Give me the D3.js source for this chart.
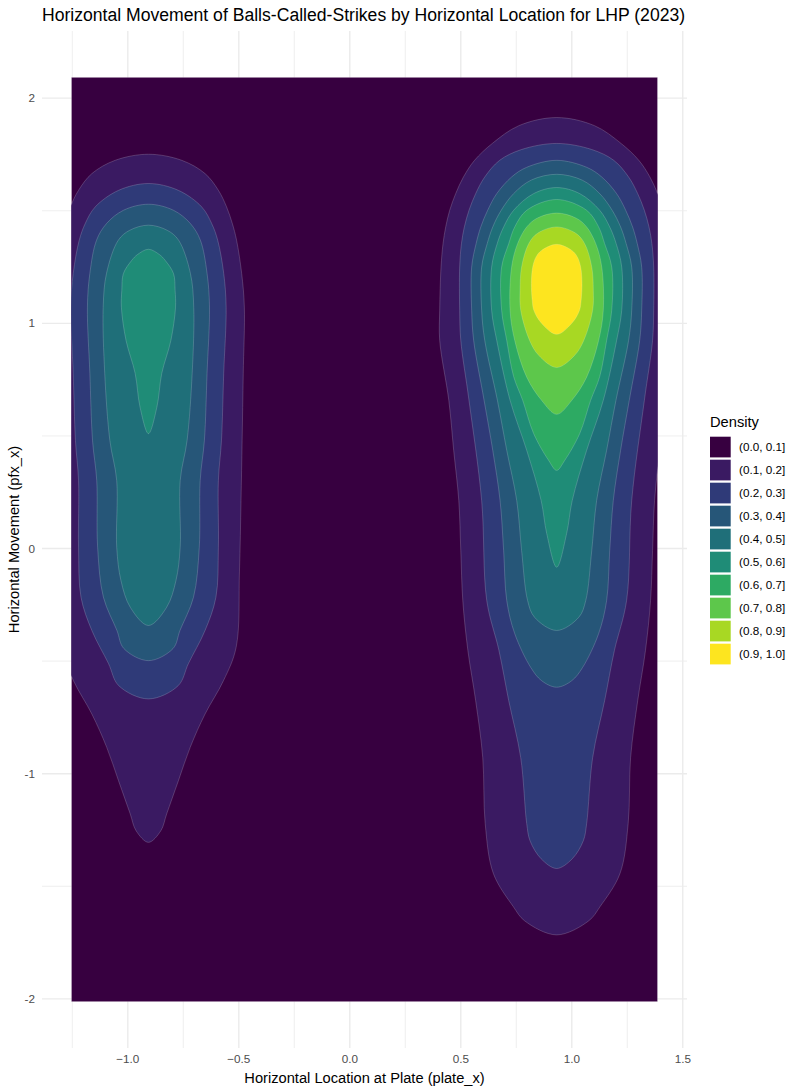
<!DOCTYPE html>
<html>
<head>
<meta charset="utf-8">
<script src="https://cdn.jsdelivr.net/npm/d3@7"></script>
<style>
  body { margin: 0; background: #fff; }
  text { font-family: 'Liberation Sans', Arial, sans-serif; }
</style>
</head>
<body>
<svg id="chart"></svg>
<script>
// Density bands (legend order) and their fill colours
const bandLabels = ['(0.0, 0.1]', '(0.1, 0.2]', '(0.2, 0.3]', '(0.3, 0.4]', '(0.4, 0.5]',
  '(0.5, 0.6]', '(0.6, 0.7]', '(0.7, 0.8]', '(0.8, 0.9]', '(0.9, 1.0]']
const bandColors = ['#370040', '#3a1a62', '#2f3a78', '#265678', '#1f6f79',
  '#1f8c77', '#2daa63', '#5dc74b', '#a8d823', '#fde51f']

// Axis ticks
const xTicks = [-1, -0.5, 0, 0.5, 1, 1.5]
const xMinorTicks = [-1.25, -0.75, -0.25, 0.25, 0.75, 1.25]
const yTicks = [-2, -1, 0, 1, 2]
const yMinorTicks = [-1.5, -0.5, 0.5, 1.5]

// Extent of the density grid (plate_x, pfx_x)
const gridX = [-1.2545, 1.387]
const gridY = [-2.013, 2.093]

// Contour outlines.
// Each row is [pfx_x, half width in plate_x] from top to bottom, around a blob centre.
const leftCenter = -0.907
const leftLevel1 = [[1.751, 0], [1.724, 0.150], [1.665, 0.255], [1.591, 0.315], [1.517, 0.352], [1.443, 0.378],
  [1.369, 0.397], [1.221, 0.420], [1.072, 0.432], [0.776, 0.427], [0.480, 0.422], [0.213, 0.417], [-0.100, 0.410],
  [-0.439, 0.395], [-0.587, 0.338], [-0.735, 0.255], [-0.883, 0.188], [-1.031, 0.135], [-1.179, 0.082],
  [-1.253, 0.056], [-1.305, 0]]
const leftLevel2 = [[1.621, 0], [1.591, 0.134], [1.517, 0.240], [1.443, 0.285], [1.369, 0.312], [1.222, 0.339],
  [1.072, 0.350], [0.778, 0.339], [0.480, 0.329], [0.302, 0.315], [0.006, 0.315], [-0.216, 0.304],
  [-0.364, 0.255], [-0.511, 0.180], [-0.609, 0.134], [-0.668, 0]]
const leftLevel3 = [[1.529, 0], [1.502, 0.113], [1.443, 0.189], [1.369, 0.234], [1.222, 0.264], [1.072, 0.275],
  [0.778, 0.264], [0.480, 0.252], [0.302, 0.233], [0.006, 0.229], [-0.216, 0.203], [-0.364, 0.142],
  [-0.444, 0.111], [-0.498, 0]]
const leftLevel4 = [[1.436, 0], [1.413, 0.085], [1.369, 0.136], [1.222, 0.189], [1.072, 0.204], [0.778, 0.197],
  [0.480, 0.174], [0.302, 0.143], [0.006, 0.143], [-0.142, 0.124], [-0.261, 0.082], [-0.342, 0]]
const leftLevel5 = [[1.329, 0], [1.305, 0.05], [1.280, 0.075], [1.221, 0.113], [1.147, 0.120], [1.072, 0.122],
  [0.924, 0.101], [0.778, 0.060], [0.628, 0.038], [0.510, 0]]

const rightCenter = 0.932
const rightLevel1 = [[1.914, 0], [1.878, 0.170], [1.799, 0.290], [1.724, 0.370], [1.650, 0.420], [1.576, 0.455],
  [1.502, 0.482], [1.428, 0.500], [1.354, 0.512], [1.250, 0.521], [1.058, 0.527], [0.924, 0.527],
  [0.658, 0.486], [0.436, 0.464], [0.213, 0.441], [-0.009, 0.432], [-0.231, 0.423], [-0.453, 0.400],
  [-0.676, 0.365], [-0.929, 0.333], [-1.222, 0.322], [-1.444, 0.285], [-1.591, 0.195], [-1.653, 0.145], [-1.716, 0]]
const rightLevel2 = [[1.799, 0], [1.772, 0.158], [1.724, 0.257], [1.650, 0.324], [1.576, 0.365], [1.502, 0.395],
  [1.428, 0.416], [1.354, 0.429], [1.250, 0.437], [1.058, 0.437], [0.924, 0.432], [0.658, 0.395],
  [0.213, 0.338], [-0.231, 0.315], [-0.453, 0.260], [-0.676, 0.216], [-0.929, 0.162], [-1.222, 0.135],
  [-1.298, 0.120], [-1.378, 0.070], [-1.421, 0]]
const rightLevel3 = [[1.724, 0], [1.693, 0.135], [1.650, 0.203], [1.576, 0.270], [1.502, 0.311], [1.428, 0.342],
  [1.354, 0.363], [1.250, 0.383], [1.058, 0.383], [0.924, 0.374], [0.658, 0.327], [0.436, 0.288],
  [0.213, 0.255], [-0.009, 0.239], [-0.231, 0.225], [-0.378, 0.189], [-0.528, 0.117], [-0.587, 0.068], [-0.616, 0]]
const rightLevel4 = [[1.662, 0], [1.636, 0.115], [1.576, 0.194], [1.502, 0.250], [1.428, 0.288], [1.354, 0.313],
  [1.250, 0.338], [1.058, 0.338], [0.924, 0.324], [0.658, 0.267], [0.436, 0.225], [0.213, 0.180],
  [-0.009, 0.158], [-0.231, 0.131], [-0.305, 0.100], [-0.364, 0]]
const rightLevel5 = [[1.603, 0], [1.576, 0.104], [1.502, 0.194], [1.428, 0.239], [1.354, 0.268], [1.250, 0.293],
  [1.058, 0.293], [0.924, 0.270], [0.658, 0.210], [0.436, 0.135], [0.213, 0.070], [0.067, 0.045], [-0.083, 0]]
const rightLevel6 = [[1.550, 0], [1.502, 0.135], [1.428, 0.189], [1.354, 0.216], [1.250, 0.248], [1.058, 0.248],
  [0.924, 0.225], [0.764, 0.194], [0.658, 0.153], [0.511, 0.104], [0.391, 0.036], [0.347, 0]]
const rightLevel7 = [[1.490, 0], [1.467, 0.088], [1.428, 0.135], [1.354, 0.176], [1.250, 0.203], [1.058, 0.210],
  [0.924, 0.189], [0.761, 0.135], [0.658, 0.068], [0.596, 0]]
const rightLevel8 = [[1.428, 0], [1.400, 0.086], [1.354, 0.126], [1.250, 0.158], [1.147, 0.165], [1.058, 0.162],
  [0.924, 0.122], [0.858, 0.081], [0.804, 0]]
const rightLevel9 = [[1.351, 0], [1.324, 0.068], [1.295, 0.093], [1.250, 0.108], [1.178, 0.114], [1.100, 0.110],
  [1.058, 0.103], [1.000, 0.068], [0.951, 0]]

// Which band each outline starts (index into bandColors)
const contours = [
  { center: leftCenter, level: 1, rows: leftLevel1 },
  { center: leftCenter, level: 2, rows: leftLevel2 },
  { center: leftCenter, level: 3, rows: leftLevel3 },
  { center: leftCenter, level: 4, rows: leftLevel4 },
  { center: leftCenter, level: 5, rows: leftLevel5 },
  { center: rightCenter, level: 1, rows: rightLevel1 },
  { center: rightCenter, level: 2, rows: rightLevel2 },
  { center: rightCenter, level: 3, rows: rightLevel3 },
  { center: rightCenter, level: 4, rows: rightLevel4 },
  { center: rightCenter, level: 5, rows: rightLevel5 },
  { center: rightCenter, level: 6, rows: rightLevel6 },
  { center: rightCenter, level: 7, rows: rightLevel7 },
  { center: rightCenter, level: 8, rows: rightLevel8 },
  { center: rightCenter, level: 9, rows: rightLevel9 },
]

// Layout
const width = 800
const height = 1092
const panel = { left: 42, right: 687, top: 31, bottom: 1048 }

// ggplot style 5% expansion of the data range
const expand = ([a, b]) => [a - (b - a) * 0.05, b + (b - a) * 0.05]

const x = d3.scaleLinear().domain(expand(gridX)).range([panel.left, panel.right])
const y = d3.scaleLinear().domain(expand(gridY)).range([panel.bottom, panel.top])

const svg = d3.select('#chart')
  .attr('width', width)
  .attr('height', height)

// Grid lines
const grid = svg.append('g')
grid.selectAll('.minor-x')
  .data(xMinorTicks)
  .enter()
  .append('line')
  .attr('x1', d => x(d)).attr('x2', d => x(d))
  .attr('y1', panel.top).attr('y2', panel.bottom)
  .attr('stroke', '#ebebeb').attr('stroke-width', 0.8)
grid.selectAll('.minor-y')
  .data(yMinorTicks)
  .enter()
  .append('line')
  .attr('y1', d => y(d)).attr('y2', d => y(d))
  .attr('x1', panel.left).attr('x2', panel.right)
  .attr('stroke', '#ebebeb').attr('stroke-width', 0.8)
grid.selectAll('.major-x')
  .data(xTicks)
  .enter()
  .append('line')
  .attr('x1', d => x(d)).attr('x2', d => x(d))
  .attr('y1', panel.top).attr('y2', panel.bottom)
  .attr('stroke', '#ebebeb').attr('stroke-width', 1.4)
grid.selectAll('.major-y')
  .data(yTicks)
  .enter()
  .append('line')
  .attr('y1', d => y(d)).attr('y2', d => y(d))
  .attr('x1', panel.left).attr('x2', panel.right)
  .attr('stroke', '#ebebeb').attr('stroke-width', 1.4)

// Clip the density bands to the grid extent
svg.append('clipPath')
  .attr('id', 'grid-clip')
  .append('rect')
  .attr('x', x(gridX[0]))
  .attr('y', y(gridY[1]))
  .attr('width', x(gridX[1]) - x(gridX[0]))
  .attr('height', y(gridY[0]) - y(gridY[1]))

const density = svg.append('g').attr('clip-path', 'url(#grid-clip)')

// lowest band fills the whole grid
density.append('rect')
  .attr('x', x(gridX[0]))
  .attr('y', y(gridY[1]))
  .attr('width', x(gridX[1]) - x(gridX[0]))
  .attr('height', y(gridY[0]) - y(gridY[1]))
  .attr('fill', bandColors[0])
  .attr('stroke', 'rgba(255,255,255,0.3)')
  .attr('stroke-width', 1)

// turns a half-width profile into a closed outline
function ring(center, rows) {
  const left = rows.map(([py, h]) => [center - h, py])
  const right = rows.slice(1, -1).reverse().map(([py, h]) => [center + h, py])
  return left.concat(right)
}

const outline = d3.line()
  .x(d => x(d[0]))
  .y(d => y(d[1]))
  .curve(d3.curveCatmullRomClosed.alpha(0.5))

density.selectAll('.band')
  .data(contours)
  .enter()
  .append('path')
  .attr('class', 'band')
  .attr('d', d => outline(ring(d.center, d.rows)))
  .attr('fill', d => bandColors[d.level])
  .attr('stroke', 'rgba(255,255,255,0.3)')
  .attr('stroke-width', 0.6)

// Tick labels
svg.selectAll('.x-label')
  .data(xTicks)
  .enter()
  .append('text')
  .attr('x', d => x(d))
  .attr('y', 1063)
  .attr('text-anchor', 'middle')
  .attr('font-size', 11.7)
  .attr('fill', '#4d4d4d')
  .text(d3.format('.1f'))

svg.selectAll('.y-label')
  .data(yTicks)
  .enter()
  .append('text')
  .attr('x', 35)
  .attr('y', d => y(d))
  .attr('dy', '.35em')
  .attr('text-anchor', 'end')
  .attr('font-size', 11.7)
  .attr('fill', '#4d4d4d')
  .text(d => d)

// Titles
svg.append('text')
  .attr('x', panel.left)
  .attr('y', 21)
  .attr('font-size', 17.6)
  .attr('fill', '#000')
  .text('Horizontal Movement of Balls-Called-Strikes by Horizontal Location for LHP (2023)')

svg.append('text')
  .attr('x', (panel.left + panel.right) / 2)
  .attr('y', 1083)
  .attr('text-anchor', 'middle')
  .attr('font-size', 14.67)
  .text('Horizontal Location at Plate (plate_x)')

svg.append('text')
  .attr('transform', `translate(19, ${(panel.top + panel.bottom) / 2}) rotate(-90)`)
  .attr('text-anchor', 'middle')
  .attr('font-size', 14.67)
  .text('Horizontal Movement (pfx_x)')

// Legend
const legend = svg.append('g').attr('transform', 'translate(710, 0)')
legend.append('text')
  .attr('x', 0)
  .attr('y', 427)
  .attr('font-size', 14.67)
  .text('Density')

const keyTop = 436.7
const keyStep = 23
const keySize = 20.7
legend.selectAll('.legend-key')
  .data(bandLabels)
  .enter()
  .append('rect')
  .attr('x', 0)
  .attr('y', (d, i) => keyTop + i * keyStep)
  .attr('width', keySize)
  .attr('height', keySize)
  .attr('fill', (d, i) => bandColors[i])

legend.selectAll('.legend-label')
  .data(bandLabels)
  .enter()
  .append('text')
  .attr('x', 29)
  .attr('y', (d, i) => keyTop + i * keyStep + keySize / 2)
  .attr('dy', '.35em')
  .attr('font-size', 11.7)
  .text(d => d)
</script>
</body>
</html>
